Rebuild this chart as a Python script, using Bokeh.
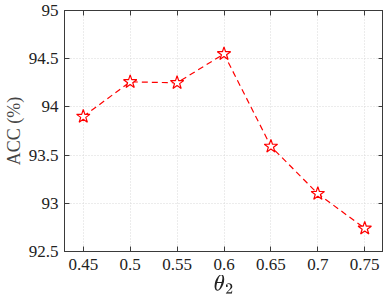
from bokeh.plotting import figure
from bokeh.models import LinearAxis, FixedTicker, Range1d, TeX
from bokeh.embed import file_html
from bokeh.resources import INLINE

theta2 = [0.45, 0.5, 0.55, 0.6, 0.65, 0.7, 0.75]
acc = [93.90, 94.26, 94.25, 94.55, 93.59, 93.10, 92.74]
x_ticks = [0.45, 0.5, 0.55, 0.6, 0.65, 0.7, 0.75]
y_ticks = [92.5, 93, 93.5, 94, 94.5, 95]

FONT = "'Liberation Serif', 'Times New Roman', serif"
AX = "#3a3a3a"

p = figure(width=383, height=297, output_backend="svg", toolbar_location=None,
           x_range=Range1d(0.43, 0.77), y_range=Range1d(92.5, 95),
           min_border_left=50, min_border_right=0, min_border_top=10, min_border_bottom=40)
p.background_fill_color = "white"
p.outline_line_color = AX
p.outline_line_width = 1

for ax in (p.xaxis[0], p.yaxis[0]):
    ax.major_label_text_font = FONT
    ax.major_label_text_font_size = "17px"
    ax.major_label_text_color = "#222222"
    ax.major_tick_in = 5
    ax.major_tick_out = 0
    ax.minor_tick_in = 0
    ax.minor_tick_out = 0
    ax.axis_line_color = AX
    ax.major_tick_line_color = AX
p.xaxis[0].ticker = FixedTicker(ticks=x_ticks)
p.yaxis[0].ticker = FixedTicker(ticks=y_ticks)
p.xaxis[0].major_label_overrides = {0.5: "0.5", 0.6: "0.6", 0.7: "0.7"}
p.yaxis[0].major_label_overrides = {93: "93", 94: "94", 95: "95"}
p.xaxis[0].major_label_standoff = 7
p.yaxis[0].major_label_standoff = 6

p.yaxis[0].axis_label = "ACC (%)"
p.yaxis[0].axis_label_text_font = FONT
p.yaxis[0].axis_label_text_font_style = "normal"
p.yaxis[0].axis_label_text_font_size = "18px"
p.yaxis[0].axis_label_standoff = 2

p.xaxis[0].axis_label = TeX(text=r"\theta_2")
p.xaxis[0].axis_label_text_font_size = "18px"
p.xaxis[0].axis_label_text_color = "#222222"
p.xaxis[0].axis_label_standoff = 2

for loc, tk in (("above", x_ticks), ("right", y_ticks)):
    a = LinearAxis(ticker=FixedTicker(ticks=tk), major_label_text_font_size="0px",
                   major_tick_in=5, major_tick_out=0, minor_tick_in=0, minor_tick_out=0,
                   major_label_standoff=0, axis_line_color=AX, major_tick_line_color=AX)
    p.add_layout(a, loc)

p.grid.grid_line_color = "#d9d9d9"
p.grid.grid_line_dash = "1 2"
p.grid.grid_line_width = 1
p.xgrid.ticker = FixedTicker(ticks=x_ticks)
p.ygrid.ticker = FixedTicker(ticks=y_ticks)

p.line(theta2, acc, line_color="#ff0000", line_width=1.2, line_dash="6 4")
p.scatter(theta2, acc, marker="star", size=14, line_color="#ff0000",
          fill_color="white", line_width=1.2)

open("out.html", "w").write(file_html(p, INLINE))
